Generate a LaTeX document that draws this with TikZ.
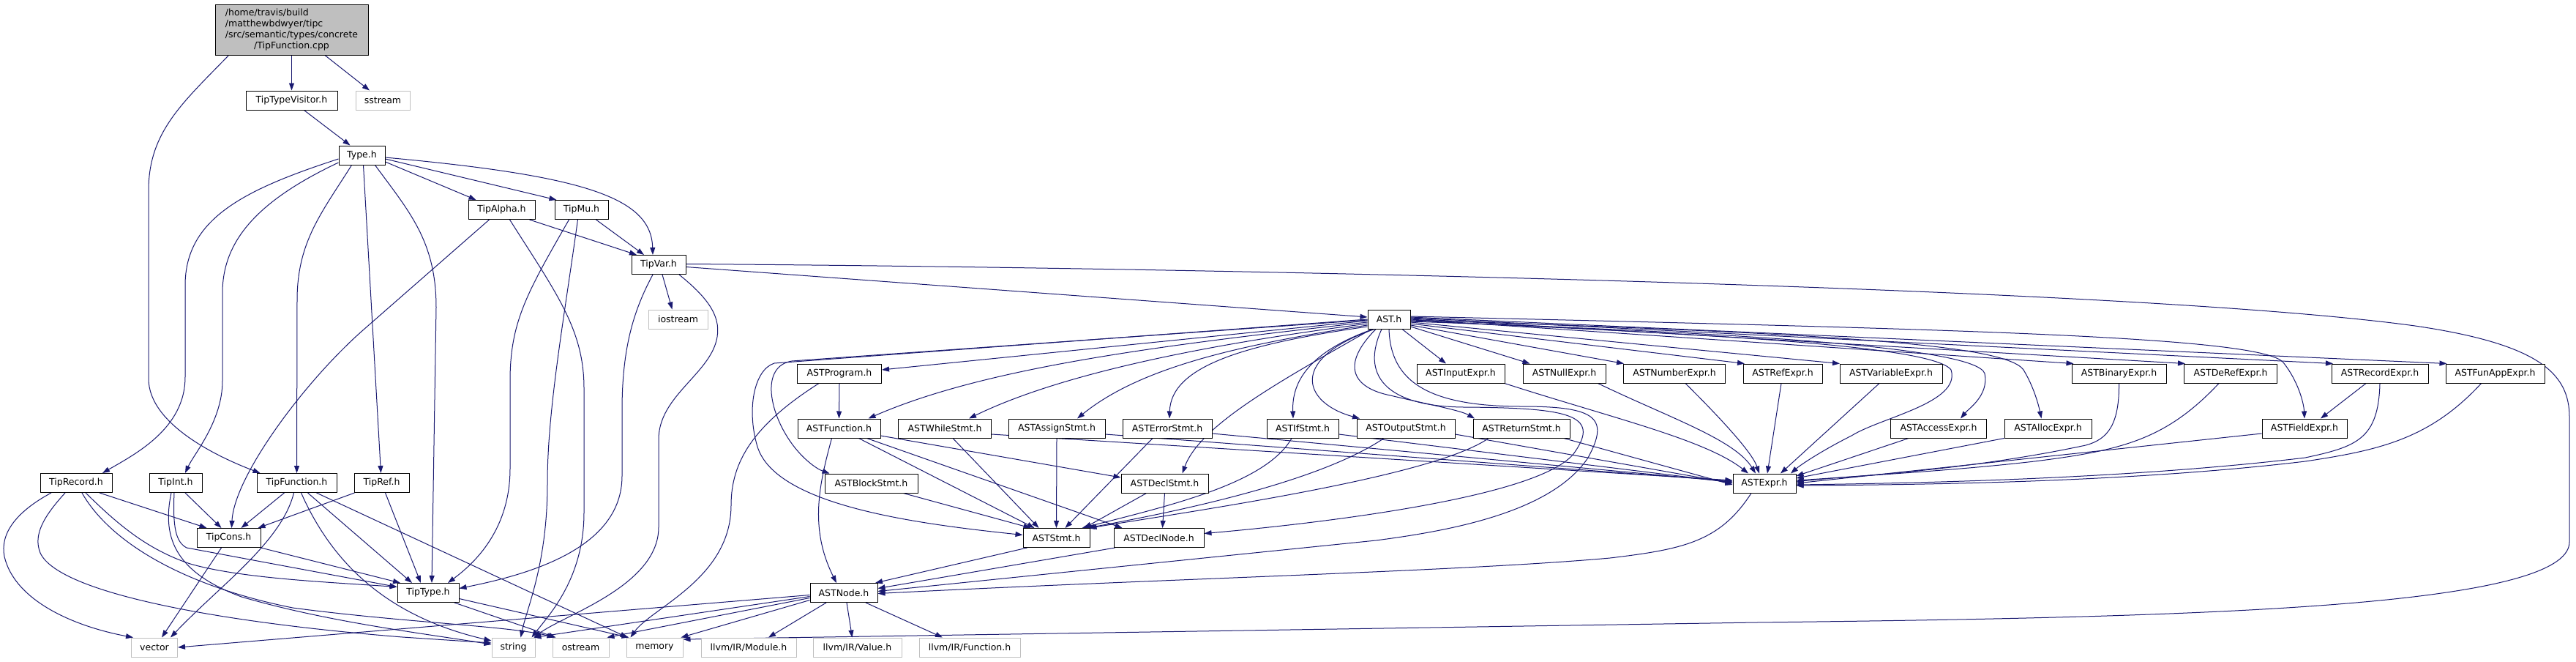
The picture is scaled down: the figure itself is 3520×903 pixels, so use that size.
\documentclass[tikz,border=0pt]{standalone}
\usepackage{fontspec}
\setmainfont{DejaVu Sans}
\usetikzlibrary{arrows.meta}
\definecolor{edgec}{HTML}{191970}
\definecolor{sysc}{HTML}{BFBFBF}
\pgfdeclarelayer{bg}
\pgfdeclarelayer{paper}
\pgfsetlayers{paper,bg,main}
\tikzset{
 hdr/.style={draw=black, line width=1pt, fill=white, minimum height=26pt, inner sep=0pt, font=\fontsize{12.5}{15}\selectfont},
 sys/.style={hdr, draw=sysc},
 dep/.style={draw=edgec, line width=1pt, -{Triangle[length=10pt,width=7pt]}}
}
\begin{document}
\begin{tikzpicture}[x=1pt,y=-1pt]
\begin{pgfonlayer}{paper}
\fill[white] (0,0) rectangle (3520,903);
\end{pgfonlayer}
\useasboundingbox (0,0) rectangle (3520,903);
% nodes
\node[hdr, fill=sysc, minimum width=209pt, minimum height=69pt] (cpp) at (398.5,40.5) {\begin{tabular}{@{}l@{}}/home/travis/build\\/matthewbdwyer/tipc\\/src/semantic/types/concrete\\\multicolumn{1}{@{}c@{}}{/TipFunction.cpp}\end{tabular}};
\node[hdr, minimum width=125pt] (tv) at (398.5,137) {TipTypeVisitor.h};
\node[sys, minimum width=74pt] (ss) at (523,137) {sstream};
\node[hdr, minimum width=63pt] (type) at (494.5,212) {Type.h};
\node[hdr, minimum width=91pt] (alpha) at (685.5,286.5) {TipAlpha.h};
\node[hdr, minimum width=73pt] (mu) at (794.5,286.5) {TipMu.h};
\node[hdr, minimum width=74pt] (var) at (900,361.5) {TipVar.h};
\node[sys, minimum width=81pt] (ios) at (926.5,436) {iostream};
\node[hdr, minimum width=58pt] (ast) at (1898,436) {AST.h};
\node[hdr, minimum width=98pt] (rec) at (104,659.5) {TipRecord.h};
\node[hdr, minimum width=72pt] (int) at (240,659.5) {TipInt.h};
\node[hdr, minimum width=109pt] (tfn) at (405.5,659.5) {TipFunction.h};
\node[hdr, minimum width=75pt] (ref) at (521.5,659.5) {TipRef.h};
\node[hdr, minimum width=87pt] (cons) at (312.5,734.5) {TipCons.h};
\node[hdr, minimum width=84pt] (ttype) at (585,809.5) {TipType.h};
\node[sys, minimum width=63pt] (vec) at (211,884) {vector};
\node[sys, minimum width=59pt] (str) at (701.5,884) {string};
\node[sys, minimum width=77pt] (ost) at (793.5,884) {ostream};
\node[sys, minimum width=77pt] (mem) at (894.5,884) {memory};
\node[sys, minimum width=130pt] (mod) at (1023,884) {llvm/IR/Module.h};
\node[sys, minimum width=121pt] (val) at (1171.5,884) {llvm/IR/Value.h};
\node[sys, minimum width=138pt] (lfn) at (1325,884) {llvm/IR/Function.h};
\node[hdr, minimum width=115pt] (prog) at (1147,510) {ASTProgram.h};
\node[hdr, minimum width=120pt] (inp) at (1996,510) {ASTInputExpr.h};
\node[hdr, minimum width=113pt] (nul) at (2137.5,510) {ASTNullExpr.h};
\node[hdr, minimum width=139pt] (num) at (2288,510) {ASTNumberExpr.h};
\node[hdr, minimum width=108pt] (refx) at (2436,510) {ASTRefExpr.h};
\node[hdr, minimum width=140pt] (varx) at (2584,510) {ASTVariableExpr.h};
\node[hdr, minimum width=129pt] (bin) at (2895.5,510) {ASTBinaryExpr.h};
\node[hdr, minimum width=127pt] (der) at (3048,510) {ASTDeRefExpr.h};
\node[hdr, minimum width=132pt] (recx) at (3252,510) {ASTRecordExpr.h};
\node[hdr, minimum width=135pt] (fap) at (3409.5,510) {ASTFunAppExpr.h};
\node[hdr, minimum width=113pt] (fun) at (1146.5,585) {ASTFunction.h};
\node[hdr, minimum width=127pt] (whl) at (1291,585) {ASTWhileStmt.h};
\node[hdr, minimum width=132pt] (asg) at (1444,585) {ASTAssignStmt.h};
\node[hdr, minimum width=122pt] (err) at (1595,585) {ASTErrorStmt.h};
\node[hdr, minimum width=98pt] (ifs) at (1780,585) {ASTIfStmt.h};
\node[hdr, minimum width=134pt] (out) at (1921,585) {ASTOutputStmt.h};
\node[hdr, minimum width=132pt] (ret) at (2079,585) {ASTReturnStmt.h};
\node[hdr, minimum width=131pt] (acc) at (2649,585) {ASTAccessExpr.h};
\node[hdr, minimum width=119pt] (alc) at (2798.5,585) {ASTAllocExpr.h};
\node[hdr, minimum width=116pt] (fld) at (3149,585) {ASTFieldExpr.h};
\node[hdr, minimum width=127pt] (blk) at (1190.5,660) {ASTBlockStmt.h};
\node[hdr, minimum width=119pt] (dst) at (1591.5,660) {ASTDeclStmt.h};
\node[hdr, minimum width=86pt] (expr) at (2411,660) {ASTExpr.h};
\node[hdr, minimum width=91pt] (stmt) at (1443.5,734.5) {ASTStmt.h};
\node[hdr, minimum width=123pt] (dnode) at (1583.5,734.5) {ASTDeclNode.h};
\node[hdr, minimum width=92pt] (node) at (1153,809.5) {ASTNode.h};
% edges
\begin{pgfonlayer}{bg}
\draw[dep] (cpp.south) -- (tv.north);
\draw[dep] ([xshift=45.5]cpp.south) -- ([xshift=-18]ss.north);
\draw[dep] ([xshift=-86]cpp.south) .. controls (250,140) and (203,180) .. (203,260) -- (203,517) .. controls (203,580) and (300,625) .. ([xshift=-50]tfn.north);
\draw[dep] ([xshift=17]tv.south) -- ([xshift=-16]type.north);
% Type.h
\draw[dep] ([yshift=-5]type.west) .. controls (330,260) and (253,300) .. (253,390) -- (253,515) .. controls (253,585) and (185,620) .. ([xshift=36]rec.north);
\draw[dep] ([yshift=-10]type.west) .. controls (350,275) and (304,330) .. (304,400) -- (304,520) .. controls (304,575) and (265,620) .. ([xshift=13]int.north);
\draw[dep] ([xshift=-14]type.south) .. controls (440,290) and (406,330) .. (406,410) -- (tfn.north);
\draw[dep] ([xshift=2]type.south) -- ([xshift=-1]ref.north);
\draw[dep] ([xshift=18]type.south) .. controls (560,290) and (596,330) .. (596,420) -- ([xshift=5]ttype.north);
\draw[dep] ([yshift=-9]type.east) -- ([xshift=-35]alpha.north);
\draw[dep] ([yshift=-5]type.east) -- ([xshift=3]mu.north west);
\draw[dep] ([yshift=-3]type.east) .. controls (800,240) and (890,270) .. ([xshift=-8]var.north);
% TipAlpha, TipMu
\draw[dep] ([xshift=38]alpha.south) -- ([xshift=-30]var.north);
\draw[dep] ([xshift=-17]alpha.south) -- (497,450) .. controls (417,520) and (320,650) .. ([xshift=4]cons.north);
\draw[dep] ([xshift=11]alpha.south) .. controls (760,400) and (798,450) .. (798,530) -- (798,700) .. controls (798,790) and (750,840) .. ([xshift=25]str.north);
\draw[dep] ([xshift=-17]mu.south) .. controls (720,400) and (697,440) .. (697,520) -- (697,640) .. controls (697,730) and (640,775) .. ([xshift=27]ttype.north);
\draw[dep] ([xshift=-5]mu.south) .. controls (770,440) and (748,560) .. (748,660) .. controls (748,770) and (720,830) .. ([xshift=10]str.north);
\draw[dep] ([xshift=20]mu.south) -- ([xshift=-20]var.north);
% TipVar
\draw[dep] ([yshift=-3]var.east) -- ([yshift=3]ast.west);
\draw[dep] ([yshift=1]var.east) .. controls (1600,365) and (2900,390) .. (3300,445) .. controls (3470,470) and (3511,510) .. (3511,570) -- (3511,740) .. controls (3511,830) and (3000,843) .. (2400,850) -- ([yshift=11]mem.east);
\draw[dep] ([xshift=5]var.south) -- ([xshift=-8]ios.north);
\draw[dep] ([xshift=-8]var.south) .. controls (868,420) and (850,470) .. (850,560) -- (850,650) .. controls (850,750) and (720,785) .. ([yshift=6]ttype.east);
\draw[dep] ([xshift=28]var.south) .. controls (965,405) and (985,430) .. (980,460) .. controls (972,510) and (900,540) .. (900,600) -- (900,720) .. controls (900,800) and (770,840) .. ([xshift=28]str.north);
% TipRecord
\draw[dep] ([xshift=-34]rec.south) .. controls (20,700) and (0,730) .. (6,760) .. controls (20,820) and (100,855) .. ([xshift=-29]vec.north);
\draw[dep] ([xshift=-15]rec.south) .. controls (60,705) and (45,730) .. (55,755) .. controls (80,810) and (300,850) .. (550,870) -- ([yshift=6]str.west);
\draw[dep] ([xshift=8]rec.south) .. controls (150,740) and (250,800) .. (400,830) .. controls (550,850) and (700,855) .. ([xshift=-36]ost.north);
\draw[dep] ([xshift=13]rec.south) .. controls (160,715) and (200,750) .. (260,770) .. controls (330,790) and (450,795) .. ([yshift=8]ttype.west);
\draw[dep] ([xshift=32]rec.south) -- ([xshift=-30]cons.north);
% TipInt
\draw[dep] ([xshift=13]int.south) -- ([xshift=-10]cons.north);
\draw[dep] ([xshift=-2]int.south) .. controls (236,720) and (240,740) .. (255,748) -- ([yshift=8]ttype.west);
\draw[dep] ([xshift=-6]int.south) .. controls (222,730) and (235,780) .. (330,815) .. controls (450,850) and (580,865) .. ([yshift=4]str.west);
% TipFunction.h
\draw[dep] ([xshift=-17]tfn.south) -- ([xshift=17]cons.north);
\draw[dep] ([xshift=-4]tfn.south) .. controls (385,740) and (300,800) .. ([xshift=22]vec.north);
\draw[dep] ([xshift=6]tfn.south) .. controls (450,760) and (520,840) .. ([yshift=9]str.west);
\draw[dep] ([xshift=15]tfn.south) -- ([xshift=-22]ttype.north);
\draw[dep] ([xshift=27]tfn.south) -- ([xshift=-37]mem.north);
% TipRef, TipCons, TipType
\draw[dep] ([xshift=-37]ref.south) -- ([xshift=40]cons.north);
\draw[dep] ([xshift=5]ref.south) -- ([xshift=-10]ttype.north);
\draw[dep] ([xshift=-10]cons.south) -- ([xshift=10]vec.north);
\draw[dep] (cons.south east) -- ([xshift=-38]ttype.north);
\draw[dep] ([xshift=36]ttype.south) -- ([xshift=-34]ost.north);
\draw[dep] ([yshift=-8]ttype.east) -- ([xshift=-35]mem.north);
% AST.h
\draw[dep] ([yshift=-2]ast.west) -- ([yshift=5]prog.east);
\draw[dep] ([yshift=-4]ast.west) .. controls (1600,470) and (1350,500) .. ([xshift=40]fun.north);
\draw[dep] ([yshift=-6]ast.west) .. controls (1650,470) and (1450,510) .. ([xshift=33]whl.north);
\draw[dep] ([yshift=-8]ast.west) .. controls (1700,470) and (1560,500) .. ([xshift=28]asg.north);
\draw[dep] ([yshift=-10]ast.west) .. controls (1700,470) and (1600,500) .. ([xshift=3]err.north);
\draw[dep] ([xshift=-22]ast.south) .. controls (1790,480) and (1765,520) .. ([xshift=-13]ifs.north);
\draw[dep] ([xshift=-20]ast.south) .. controls (1760,490) and (1780,550) .. ([xshift=-63]out.north);
\draw[dep] ([xshift=-18]ast.south) .. controls (1830,500) and (1850,530) .. (1900,540) .. controls (1950,552) and (1995,560) .. ([xshift=-64]ret.north);
\draw[dep] ([xshift=-24]ast.south) .. controls (1750,520) and (1640,580) .. ([xshift=24]dst.north);
\draw[dep] ([yshift=-1]ast.west) -- (1082,493) .. controls (1040,500) and (1050,560) .. (1080,603) .. controls (1095,625) and (1115,640) .. ([xshift=-57]blk.north);
\draw[dep] (ast.west) -- (1058,496) .. controls (1030,505) and (1020,560) .. (1035,610) .. controls (1060,690) and (1250,715) .. ([yshift=4]stmt.west);
\draw[dep] ([xshift=-10]ast.south) .. controls (1860,510) and (1890,555) .. (2000,556) .. controls (2140,557) and (2190,565) .. (2150,620) .. controls (2100,680) and (1800,715) .. ([yshift=6]dnode.east);
\draw[dep] (ast.south) .. controls (1900,520) and (1950,555) .. (2080,555) .. controls (2180,555) and (2200,570) .. (2170,625) .. controls (2120,700) and (1980,725) .. (1880,738) -- ([yshift=2]node.east);
\draw[dep] ([yshift=-2]ast.east) .. controls (2300,455) and (2640,470) .. (2666,505) .. controls (2680,550) and (2570,570) .. (2530,595) .. controls (2490,615) and (2460,635) .. ([xshift=36]expr.north);
\draw[dep] ([xshift=18]ast.south) -- ([xshift=-20]inp.north);
\draw[dep] ([yshift=-10]ast.east) -- ([xshift=-47]nul.north);
\draw[dep] ([yshift=-8]ast.east) -- ([xshift=-69]num.north);
\draw[dep] ([yshift=-6]ast.east) -- ([xshift=-52]refx.north);
\draw[dep] ([yshift=-4]ast.east) -- ([xshift=-70]varx.north);
\draw[dep] ([yshift=-3]ast.east) .. controls (2400,455) and (2700,475) .. (2712,510) .. controls (2718,540) and (2690,558) .. ([xshift=30]acc.north);
\draw[dep] ([yshift=-1]ast.east) .. controls (2500,455) and (2740,470) .. (2765,505) .. controls (2780,530) and (2786,555) .. ([xshift=-9]alc.north);
\draw[dep] (ast.east) -- ([xshift=-62]bin.north);
\draw[dep] ([yshift=1]ast.east) -- ([xshift=-62]der.north);
\draw[dep] ([yshift=2]ast.east) -- ([xshift=-64]recx.north);
\draw[dep] ([yshift=3]ast.east) -- ([xshift=-66]fap.north);
\draw[dep] ([yshift=4]ast.east) .. controls (2700,450) and (3090,460) .. (3120,495) .. controls (3140,520) and (3148,550) .. (fld.north);
% ASTProgram, ASTFunction
\draw[dep] (prog.south) -- (fun.north);
\draw[dep] ([xshift=-28]prog.south) .. controls (1030,580) and (999,630) .. (999,690) .. controls (999,790) and (890,830) .. ([xshift=-33]mem.north);
\draw[dep] ([xshift=-10]fun.south) .. controls (1120,660) and (1105,720) .. ([xshift=-10]node.north);
\draw[dep] ([xshift=27]fun.south) -- ([xshift=-30]stmt.north);
\draw[dep] ([xshift=38]fun.south) -- ([xshift=-50]dnode.north);
\draw[dep] ([yshift=-10]fun.east) -- ([yshift=8]dst.west);
% statements
\draw[dep] ([xshift=11]whl.south) -- ([xshift=-24]stmt.north);
\draw[dep] ([yshift=-8]whl.east) -- ([yshift=4]expr.west);
\draw[dep] (asg.south) -- (stmt.north);
\draw[dep] ([yshift=-8]asg.east) -- ([yshift=3]expr.west);
\draw[dep] ([xshift=-20]err.south) -- ([xshift=12]stmt.north);
\draw[dep] ([yshift=-7]err.east) -- ([yshift=2]expr.west);
\draw[dep] ([xshift=-15]ifs.south) .. controls (1730,660) and (1600,690) .. ([xshift=35]stmt.north);
\draw[dep] ([yshift=-8]ifs.east) -- ([yshift=1]expr.west);
\draw[dep] ([xshift=-30]out.south) .. controls (1800,660) and (1600,700) .. ([xshift=42]stmt.north);
\draw[dep] ([yshift=-8]out.east) -- ([yshift=0]expr.west);
\draw[dep] ([xshift=-45]ret.south) .. controls (1960,650) and (1650,695) .. ([xshift=45]stmt.north);
\draw[dep] ([xshift=58]ret.south) -- ([yshift=-2]expr.west);
\draw[dep] ([xshift=44]blk.south) -- ([xshift=-35]stmt.north);
\draw[dep] ([xshift=-25]dst.south) -- ([xshift=38]stmt.north);
\draw[dep] (dst.south) -- ([xshift=5]dnode.north);
\draw[dep] ([xshift=-40]stmt.south) -- ([xshift=43]node.north);
\draw[dep] ([xshift=-60]dnode.south) -- ([yshift=6]node.east);
\draw[dep] ([xshift=-18]expr.south) .. controls (2350,740) and (2300,750) .. (2200,762) .. controls (2000,780) and (1600,790) .. ([yshift=-1]node.east);
% ASTNode
\draw[dep] ([yshift=-3]node.west) -- (vec.east);
\draw[dep] ([yshift=-5]node.west) -- ([xshift=28]str.north);
\draw[dep] ([yshift=-7]node.west) -- ([xshift=36]ost.north);
\draw[dep] ([yshift=-10]node.west) -- ([xshift=36]mem.north);
\draw[dep] ([xshift=-24]node.south) -- ([xshift=27]mod.north);
\draw[dep] ([xshift=4]node.south) -- ([xshift=-7]val.north);
\draw[dep] ([xshift=30]node.south) -- ([xshift=-37]lfn.north);
% expressions
\draw[dep] ([xshift=60]inp.south) .. controls (2200,570) and (2330,600) .. ([xshift=-22]expr.north);
\draw[dep] ([xshift=46]nul.south) .. controls (2280,570) and (2370,600) .. ([xshift=-12]expr.north);
\draw[dep] ([xshift=15]num.south) .. controls (2360,580) and (2395,620) .. ([xshift=-7]expr.north);
\draw[dep] ([xshift=-2]refx.south) -- ([xshift=4]expr.north);
\draw[dep] ([xshift=-16]varx.south) -- ([xshift=22]expr.north);
\draw[dep] ([xshift=-41]acc.south) -- ([yshift=10]expr.east);
\draw[dep] (alc.south west) -- ([yshift=7]expr.east);
\draw[dep] (bin.south) .. controls (2896,580) and (2880,600) .. (2850,608) .. controls (2700,640) and (2550,650) .. ([yshift=4]expr.east);
\draw[dep] ([xshift=-16]der.south) .. controls (2960,600) and (2900,615) .. (2780,630) .. controls (2650,645) and (2520,650) .. ([yshift=2]expr.east);
\draw[dep] ([yshift=-7]fld.west) -- (expr.east);
\draw[dep] (recx.south) .. controls (3250,600) and (3220,610) .. (3150,625) .. controls (2900,655) and (2600,660) .. ([yshift=-2]expr.east);
\draw[dep] ([xshift=-19]fap.south) .. controls (3320,600) and (3250,615) .. (3150,630) .. controls (2900,660) and (2600,662) .. ([yshift=-3]expr.east);
\draw[dep] ([xshift=-19]recx.south) -- ([xshift=22]fld.north);
\end{pgfonlayer}
\end{tikzpicture}
\end{document}
